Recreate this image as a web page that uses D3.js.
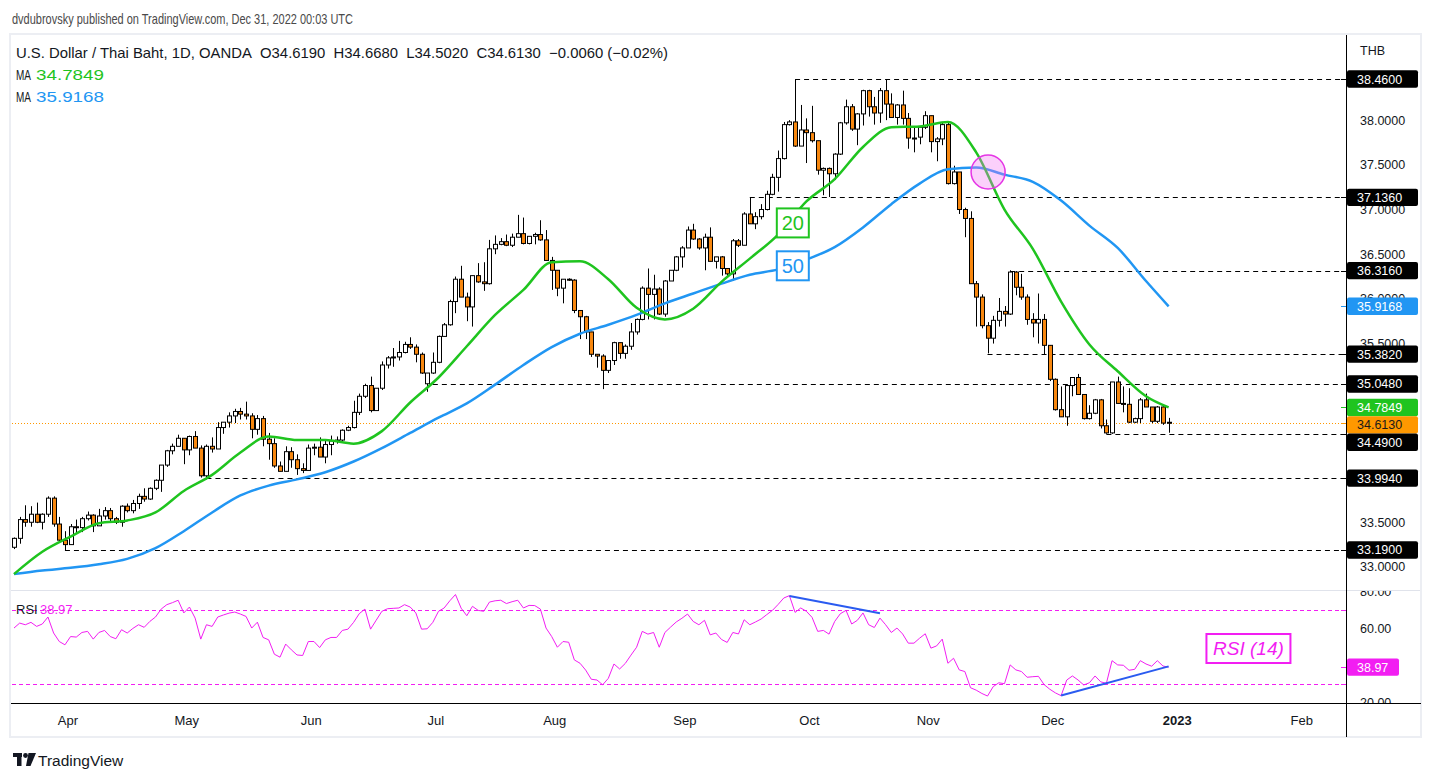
<!DOCTYPE html>
<html>
<head>
<meta charset="utf-8">
<script src="https://cdn.jsdelivr.net/npm/d3@7"></script>
<style>
  body { margin: 0; background: #fff; }
  svg { display: block; font-family: "Liberation Sans", Arial, sans-serif; }
</style>
</head>
<body>
<svg id="chart" width="1432" height="782"></svg>
<script>
// ---- data (USD/THB daily, OANDA), first bar 2022-03-21, weekdays only ----
const firstDay = new Date(2022, 2, 21);
const lastAxisDay = new Date(2023, 2, 1);

const opens = [
  33.22,33.32,33.53,33.50,33.59,33.50,33.59,33.77,33.48,33.30,
  33.25,33.45,33.44,33.54,33.58,33.46,33.57,33.63,33.54,33.50,
  33.68,33.63,33.71,33.79,33.76,33.88,33.97,34.14,34.30,34.35,
  34.44,34.31,34.46,34.33,34.02,34.35,34.32,34.56,34.62,34.69,
  34.74,34.71,34.69,34.54,34.66,34.43,34.38,34.13,34.07,34.29,
  34.20,34.10,34.08,34.33,34.34,34.23,34.37,34.41,34.42,34.53,
  34.56,34.73,34.91,35.03,34.75,35.00,35.26,35.34,35.35,35.40,
  35.49,35.46,35.38,35.05,35.17,35.29,35.58,35.71,35.97,36.22,
  36.02,35.91,36.26,36.19,36.17,36.56,36.61,36.64,36.60,36.69,
  36.73,36.62,36.70,36.72,36.66,36.43,36.32,36.12,36.22,36.21,
  35.87,35.80,35.63,35.38,35.36,35.20,35.31,35.51,35.39,35.47,
  35.63,35.77,36.12,36.05,36.11,35.83,36.20,36.32,36.47,36.57,
  36.77,36.67,36.57,36.69,36.42,36.47,36.34,36.28,36.65,36.60,
  36.95,36.84,36.92,37.00,37.17,37.36,37.57,37.95,37.98,37.71,
  37.89,37.86,37.77,37.44,37.46,37.40,37.62,37.97,38.15,37.90,
  38.07,38.33,38.15,38.08,38.33,38.18,38.03,38.17,38.02,37.80,
  37.81,37.92,38.05,37.76,37.79,37.95,37.29,37.42,37.00,36.90,
  36.17,36.02,35.70,35.56,35.76,35.86,35.83,36.30,36.13,36.02,
  35.77,35.73,35.77,35.48,35.10,34.76,34.68,35.03,35.12,34.93,
  34.66,34.72,34.87,34.58,34.50,35.07,34.83,34.82,34.62,34.66,
  34.87,34.79,34.63,34.79,34.619
];
const highs = [
  33.33,33.56,33.69,33.68,33.72,33.60,33.79,33.79,33.56,33.40,
  33.48,33.53,33.56,33.62,33.59,33.65,33.67,33.66,33.56,33.69,
  33.71,33.75,33.82,33.88,33.89,33.98,34.14,34.31,34.38,34.48,
  34.44,34.47,34.52,34.36,34.37,34.45,34.62,34.62,34.73,34.77,
  34.78,34.85,34.72,34.70,34.69,34.50,34.44,34.18,34.35,34.34,
  34.26,34.16,34.37,34.38,34.45,34.41,34.47,34.46,34.54,34.58,
  34.86,34.94,35.05,35.13,35.00,35.30,35.36,35.45,35.53,35.52,
  35.57,35.49,35.40,35.17,35.40,35.59,35.73,35.99,36.25,36.37,
  36.07,36.26,36.40,36.41,36.66,36.71,36.68,36.72,36.73,36.94,
  36.91,36.70,36.74,36.88,36.77,36.47,36.32,36.22,36.23,36.22,
  35.87,35.81,35.63,35.38,35.38,35.31,35.52,35.51,35.49,35.73,
  35.78,36.14,36.34,36.27,36.13,36.21,36.32,36.48,36.59,36.81,
  36.84,36.68,36.73,36.80,36.47,36.48,36.34,36.67,36.67,36.97,
  37.14,36.97,37.06,37.21,37.40,37.66,37.98,38.00,38.46,38.17,
  38.02,38.16,37.77,37.47,37.47,37.63,37.98,38.23,38.18,38.08,
  38.34,38.34,38.26,38.36,38.46,38.30,38.18,38.33,38.08,37.93,
  37.93,38.10,38.05,37.81,37.98,37.99,37.49,37.42,37.02,36.98,
  36.20,36.05,35.74,35.81,36.01,35.92,36.32,36.31,36.28,36.05,
  35.84,36.06,35.83,35.48,35.11,35.02,35.03,35.12,35.16,34.93,
  34.81,34.88,34.88,34.65,35.07,35.13,35.02,35.00,34.67,34.89,
  34.94,34.79,34.80,34.80,34.668
];
const lows = [
  33.20,33.26,33.45,33.45,33.49,33.42,33.56,33.45,33.28,33.18,
  33.25,33.37,33.39,33.52,33.39,33.46,33.53,33.51,33.48,33.45,
  33.61,33.60,33.65,33.73,33.75,33.86,33.84,34.12,34.26,34.35,
  34.15,34.25,34.33,34.00,33.98,34.28,34.32,34.49,34.56,34.61,
  34.65,34.65,34.44,34.48,34.35,34.20,34.11,34.07,34.07,34.11,
  34.03,34.05,34.08,34.25,34.23,34.16,34.25,34.38,34.41,34.52,
  34.55,34.70,34.89,34.73,34.75,34.98,35.22,35.24,35.31,35.39,
  35.44,35.29,35.16,34.96,35.16,35.28,35.58,35.70,35.84,36.02,
  35.75,35.69,36.18,36.09,36.16,36.50,36.60,36.59,36.58,36.69,
  36.61,36.61,36.61,36.65,36.43,36.10,36.03,35.95,36.20,35.84,
  35.55,35.55,35.35,35.23,34.99,35.17,35.26,35.33,35.33,35.43,
  35.60,35.76,35.77,35.77,35.82,35.80,36.20,36.31,36.35,36.57,
  36.66,36.55,36.32,36.42,36.34,36.26,36.24,36.20,36.58,36.60,
  36.84,36.78,36.89,36.99,37.16,37.20,37.56,37.94,37.70,37.71,
  37.52,37.75,37.39,37.16,37.14,37.33,37.61,37.95,37.88,37.72,
  37.94,38.04,37.95,37.97,38.00,38.03,37.95,37.95,37.68,37.64,
  37.73,37.90,37.64,37.54,37.72,37.28,37.28,36.95,36.69,36.17,
  35.69,35.67,35.39,35.50,35.69,35.69,35.82,36.04,35.99,35.71,
  35.57,35.50,35.38,35.08,34.75,34.68,34.58,34.91,34.93,34.65,
  34.65,34.71,34.55,34.49,34.49,34.83,34.73,34.61,34.61,34.61,
  34.79,34.61,34.61,34.59,34.502
];
const closes = [
  33.32,33.53,33.50,33.59,33.50,33.59,33.77,33.48,33.30,33.25,
  33.45,33.44,33.54,33.58,33.46,33.57,33.63,33.54,33.50,33.68,
  33.63,33.71,33.79,33.76,33.88,33.97,34.14,34.30,34.35,34.44,
  34.31,34.46,34.33,34.02,34.35,34.32,34.56,34.62,34.69,34.74,
  34.71,34.69,34.54,34.66,34.43,34.38,34.13,34.07,34.29,34.20,
  34.10,34.08,34.33,34.34,34.23,34.37,34.41,34.42,34.53,34.56,
  34.73,34.91,35.03,34.75,35.00,35.26,35.34,35.35,35.40,35.49,
  35.46,35.38,35.17,35.17,35.29,35.58,35.71,35.97,36.22,36.02,
  35.91,36.26,36.19,36.17,36.56,36.61,36.64,36.60,36.69,36.73,
  36.62,36.70,36.72,36.66,36.43,36.32,36.12,36.22,36.21,35.87,
  35.80,35.63,35.38,35.36,35.20,35.31,35.51,35.39,35.47,35.63,
  35.77,36.12,36.05,36.11,35.83,36.20,36.32,36.47,36.57,36.77,
  36.67,36.57,36.69,36.42,36.47,36.34,36.28,36.65,36.60,36.95,
  36.84,36.92,37.00,37.17,37.36,37.57,37.95,37.98,37.71,37.89,
  37.86,37.77,37.44,37.46,37.40,37.62,37.97,38.15,37.90,38.07,
  38.33,38.15,38.08,38.33,38.18,38.03,38.17,38.02,37.80,37.80,
  37.92,38.05,37.76,37.79,37.95,37.29,37.42,37.00,36.90,36.17,
  36.02,35.70,35.56,35.76,35.86,35.83,36.30,36.13,36.02,35.77,
  35.73,35.77,35.48,35.10,34.76,34.68,35.03,35.12,34.93,34.66,
  34.72,34.87,34.58,34.50,35.07,34.83,34.82,34.62,34.66,34.87,
  34.79,34.63,34.79,34.61,34.613
];

// moving averages every 5th bar
const maBars = [0,5,10,15,20,25,30,35,40,45,50,55,60,65,70,75,80,85,90,95,100,
  105,110,115,120,125,130,135,140,145,150,155,160,165,170,175,180,185,190,195,200,204];
const ma20 = [32.92,33.17,33.34,33.49,33.52,33.61,33.85,34.03,34.28,34.46,34.42,
  34.42,34.38,34.52,34.84,35.12,35.47,35.82,36.10,36.41,36.42,36.22,35.90,35.77,
  35.89,36.19,36.45,36.72,37.09,37.34,37.70,37.92,37.93,37.98,37.64,37.00,36.56,
  35.97,35.49,35.19,34.91,34.785];
const ma50 = [32.92,32.96,32.99,33.03,33.09,33.21,33.40,33.61,33.80,33.91,33.98,
  34.06,34.18,34.33,34.50,34.67,34.83,35.04,35.26,35.46,35.61,35.71,35.82,35.95,
  36.06,36.17,36.27,36.33,36.44,36.58,36.80,37.06,37.29,37.45,37.47,37.39,37.31,
  37.10,36.82,36.57,36.20,35.917];

const rsi = [
  60.2,62.9,62.0,63.3,61.1,62.4,66.2,57.5,52.9,51.1,
  55.6,55.3,57.8,58.4,54.2,57.8,58.9,55.6,54.4,59.3,
  57.5,60.0,62.0,60.6,63.8,66.2,70.5,72.9,74.0,75.3,
  68.4,71.6,65.6,54.2,62.0,61.1,66.2,67.3,68.3,68.9,
  67.8,66.5,60.2,63.4,55.1,53.8,46.0,44.4,51.5,48.4,
  45.6,45.3,52.9,52.9,49.6,53.8,55.1,55.1,58.9,59.6,
  63.3,68.0,70.5,59.6,64.5,69.3,70.7,70.9,71.1,72.9,
  71.6,68.4,59.6,59.8,63.3,69.3,71.1,75.0,78.4,71.0,
  66.9,72.0,69.8,69.3,74.3,75.0,75.3,73.5,74.5,75.3,
  71.1,72.5,72.4,70.5,60.2,55.6,49.8,52.9,52.5,42.9,
  41.1,37.4,32.4,32.0,29.4,32.9,40.7,38.0,41.0,45.5,
  49.8,58.4,56.9,57.8,49.8,57.8,60.7,63.5,65.5,67.8,
  63.8,62.0,64.4,56.5,57.5,54.0,52.4,57.8,57.0,64.7,
  62.0,63.5,65.1,67.5,69.8,73.0,76.5,77.8,68.7,71.1,
  69.3,66.0,58.4,58.9,56.9,63.8,68.0,69.8,62.4,64.4,
  68.4,62.0,60.5,65.6,62.0,57.8,60.2,57.0,52.0,52.0,
  54.7,57.1,49.3,50.5,54.2,41.1,43.8,37.5,36.6,27.8,
  26.5,24.7,23.3,28.4,30.5,30.0,40.2,37.5,36.6,33.5,
  33.8,34.0,29.5,27.0,25.0,23.5,32.0,34.2,32.0,29.3,
  30.5,34.2,31.0,30.2,42.5,40.2,40.0,37.3,37.8,42.5,
  40.7,39.5,42.5,39.6,38.97
];

// horizontal levels drawn on the chart, and the bar each one starts from
const levelPrices = [38.46, 37.136, 36.316, 35.382, 35.048, 34.49, 33.994, 33.19];
const levelFrom   = [138, 130, 176, 172, 74, 193, 34, 9];
// axis ticks that are not hidden by the value labels
const priceTicks = [33.0, 33.5, 35.5, 36.0, 36.5, 37.0, 37.5, 38.0];
const rsiTicks = [80, 60, 20];
const rsiDivergences = [[[137, 77.6], [153, 68.2]], [[185, 23.6], [204, 39.4]]];

const lastPrice = 34.613, lastMa20 = 34.7849, lastMa50 = 35.9168, lastRsi = 38.97;

// ---- layout ----
const W = 1432, H = 782;
const plotL = 12, plotR = 1346;
const priceTop = 36, priceBot = 590, rsiBot = 703;
const UP = "#ffffff", DOWN = "#f7870f", GREEN = "#1fc41f", BLUE = "#2196f3", MAG = "#f21ef2";
const TXT = "#131722";

const svg = d3.select("#chart");
svg.append("rect").attr("width", W).attr("height", H).attr("fill", "#fff");

const x = d3.scaleLinear().domain([0, 204]).range([14, 14 + 204 * 5.66]);
const y = d3.scaleLinear().domain([32.742, 38.897]).range([priceBot, 40]);
const yR = d3.scaleLinear().domain([70, 30]).range([610, 683.7]);

const days = d3.timeDay.range(firstDay, lastAxisDay).filter(d => d.getDay() > 0 && d.getDay() < 6);

// frame
svg.append("rect").attr("x", 10).attr("y", 34).attr("width", 1411).attr("height", 703)
  .attr("fill", "none").attr("stroke", "#eceef3").attr("stroke-width", 2);
svg.append("line").attr("x1", 11).attr("x2", 1420).attr("y1", 590.5).attr("y2", 590.5)
  .attr("stroke", "#e0e3eb");

const defs = svg.append("defs");
defs.append("clipPath").attr("id", "cp").append("rect")
  .attr("x", plotL).attr("y", priceTop).attr("width", plotR - plotL).attr("height", priceBot - priceTop);
defs.append("clipPath").attr("id", "cr").append("rect")
  .attr("x", plotL).attr("y", 591).attr("width", plotR - plotL).attr("height", rsiBot - 591);

const gp = svg.append("g").attr("clip-path", "url(#cp)");

// last price dotted line
gp.append("line").attr("x1", plotL).attr("x2", plotR)
  .attr("y1", Math.round(y(lastPrice)) + 0.5).attr("y2", Math.round(y(lastPrice)) + 0.5)
  .attr("stroke", "#ff9800").attr("stroke-dasharray", "1,2");

// level lines
levelPrices.forEach((p, k) => {
  gp.append("line").attr("x1", x(levelFrom[k])).attr("x2", plotR)
    .attr("y1", Math.round(y(p)) + 0.5).attr("y2", Math.round(y(p)) + 0.5)
    .attr("stroke", "#000").attr("stroke-dasharray", "5,4");
});

// candles
const bars = d3.range(closes.length);
const cg = gp.append("g");
cg.selectAll("line.wick").data(bars).join("line")
  .attr("class", "wick")
  .attr("x1", i => Math.round(x(i)) + 0.5).attr("x2", i => Math.round(x(i)) + 0.5)
  .attr("y1", i => y(highs[i])).attr("y2", i => y(lows[i]))
  .attr("stroke", "#000");
cg.selectAll("rect.body").data(bars).join("rect")
  .attr("class", "body")
  .attr("x", i => Math.round(x(i)) - 1.5)
  .attr("width", 4)
  .attr("y", i => y(Math.max(opens[i], closes[i])))
  .attr("height", i => Math.max(1, Math.abs(y(opens[i]) - y(closes[i]))))
  .attr("fill", i => closes[i] > opens[i] ? UP : DOWN)
  .attr("stroke", "#000").attr("stroke-width", 1);

// moving averages
const maLine = vals => d3.line().curve(d3.curveMonotoneX)
  .x((d, k) => x(maBars[k])).y(d => y(d))(vals);
gp.append("path").attr("d", maLine(ma50)).attr("fill", "none").attr("stroke", BLUE).attr("stroke-width", 2.5);
gp.append("path").attr("d", maLine(ma20)).attr("fill", "none").attr("stroke", GREEN).attr("stroke-width", 2.5);

// annotations: cross circle, MA labels
gp.append("circle").attr("cx", x(172.1)).attr("cy", y(37.42)).attr("r", 17)
  .attr("fill", "rgba(244,120,244,0.35)").attr("stroke", "#e535e5").attr("stroke-width", 1.5);

[[36.85, "20", GREEN], [36.37, "50", BLUE]].forEach(([p, t, c]) => {
  const cx = x(137.6), cy = y(p);
  gp.append("rect").attr("x", cx - 16).attr("y", cy - 14.5).attr("width", 32).attr("height", 29)
    .attr("fill", "#fff").attr("stroke", c).attr("stroke-width", 2);
  gp.append("text").attr("x", cx).attr("y", cy + 7).attr("text-anchor", "middle")
    .attr("font-size", 20).attr("fill", c).text(t);
});

// ---- RSI pane ----
const gr = svg.append("g").attr("clip-path", "url(#cr)");
[70, 30].forEach(v => {
  gr.append("line").attr("x1", plotL).attr("x2", plotR)
    .attr("y1", Math.round(yR(v)) + 0.5).attr("y2", Math.round(yR(v)) + 0.5)
    .attr("stroke", MAG).attr("stroke-dasharray", "4,3");
});
gr.append("path")
  .attr("d", d3.line().x((d, i) => x(i)).y(d => yR(d))(rsi))
  .attr("fill", "none").attr("stroke", MAG).attr("stroke-width", 1);
rsiDivergences.forEach(seg => {
  gr.append("line").attr("x1", x(seg[0][0])).attr("y1", yR(seg[0][1]))
    .attr("x2", x(seg[1][0])).attr("y2", yR(seg[1][1]))
    .attr("stroke", "#2a5bf0").attr("stroke-width", 2);
});
{
  const cx = x(218.1), cy = yR(49.1);
  gr.append("rect").attr("x", cx - 42).attr("y", cy - 14.5).attr("width", 84).attr("height", 29)
    .attr("fill", "#fff").attr("stroke", MAG).attr("stroke-width", 2);
  gr.append("text").attr("x", cx).attr("y", cy + 6.5).attr("text-anchor", "middle")
    .attr("font-size", 19).attr("font-style", "italic").attr("fill", MAG).text("RSI (14)");
}
svg.append("text").attr("x", 16).attr("y", 614).attr("font-size", 13).attr("fill", TXT).text("RSI");
svg.append("text").attr("x", 40).attr("y", 614).attr("font-size", 13).attr("fill", MAG).text(lastRsi.toFixed(2));

// ---- time axis ----
svg.append("line").attr("x1", 11).attr("x2", 1421).attr("y1", rsiBot + 0.5).attr("y2", rsiBot + 0.5).attr("stroke", "#000");
const monthStarts = d3.timeMonth.range(new Date(2022, 3, 1), new Date(2023, 2, 1));
monthStarts.forEach(m => {
  const i = days.findIndex(d => d >= m);
  const isYear = m.getMonth() === 0;
  svg.append("text").attr("x", x(i) + 3).attr("y", 725).attr("text-anchor", "middle")
    .attr("font-size", 13).attr("fill", TXT).attr("font-weight", isYear ? "bold" : "normal")
    .text(isYear ? d3.timeFormat("%Y")(m) : d3.timeFormat("%b")(m));
});

// ---- price axis ----
svg.append("line").attr("x1", plotR + 0.5).attr("x2", plotR + 0.5).attr("y1", 35).attr("y2", 737).attr("stroke", "#000");
svg.append("text").attr("x", 1360).attr("y", 55).attr("font-size", 12.5).attr("fill", TXT).text("THB");
const ga = svg.append("g");
priceTicks.forEach(v => {
  ga.append("text").attr("x", 1360).attr("y", y(v) + 4.5).attr("font-size", 12.5)
    .attr("fill", TXT).text(v.toFixed(4));
});
defs.append("clipPath").attr("id", "cra").append("rect").attr("x", 1347).attr("y", 591).attr("width", 80).attr("height", 112);
const ra = svg.append("g").attr("clip-path", "url(#cra)");
rsiTicks.forEach(v => {
  ra.append("text").attr("x", 1360).attr("y", yR(v) + 4.5).attr("font-size", 12.5)
    .attr("fill", TXT).text(v.toFixed(2));
});

// value labels on the price axis, pushed apart downward when they collide
const BH = 17.4;
const priceBadges = levelPrices.map(p => ({ v: p, fill: "#000", color: "#fff" }))
  .concat([
    { v: lastMa50, fill: BLUE, color: "#fff" },
    { v: lastMa20, fill: GREEN, color: "#fff" },
    { v: lastPrice, fill: "#ff9800", color: "#1a1a1a" }
  ])
  .sort((a, b) => b.v - a.v);
let prevY = -Infinity;
priceBadges.forEach(b => {
  b.y = Math.max(y(b.v), prevY + BH);
  prevY = b.y;
});
function drawBadge(b, digits, w, tickY) {
  svg.append("line").attr("x1", plotR - 5).attr("x2", plotR)
    .attr("y1", Math.round(tickY) + 0.5).attr("y2", Math.round(tickY) + 0.5).attr("stroke", b.fill);
  svg.append("rect").attr("x", 1347).attr("y", b.y - BH / 2).attr("width", w).attr("height", BH)
    .attr("rx", 2).attr("fill", b.fill);
  svg.append("text").attr("x", 1357).attr("y", b.y + 4.5).attr("font-size", 12.5)
    .attr("fill", b.color).text(b.v.toFixed(digits));
}
priceBadges.forEach(b => drawBadge(b, 4, 71, y(b.v)));
drawBadge({ v: lastRsi, y: yR(lastRsi), fill: MAG, color: "#fff" }, 2, 52, yR(lastRsi));
[70, 30].forEach(v => {
  svg.append("line").attr("x1", plotR - 5).attr("x2", plotR).attr("y1", Math.round(yR(v)) + 0.5).attr("y2", Math.round(yR(v)) + 0.5).attr("stroke", MAG);
});

// ---- header ----
svg.append("text").attr("x", 12).attr("y", 24).attr("font-size", 15).attr("fill", "#4a4a4a")
  .attr("textLength", 341).attr("lengthAdjust", "spacingAndGlyphs")
  .text("dvdubrovsky published on TradingView.com, Dec 31, 2022 00:03 UTC");
svg.append("text").attr("x", 16).attr("y", 58).attr("font-size", 14.5).attr("fill", TXT)
  .attr("textLength", 652).attr("lengthAdjust", "spacingAndGlyphs")
  .text("U.S. Dollar / Thai Baht, 1D, OANDA\u00a0 O34.6190\u00a0 H34.6680\u00a0 L34.5020\u00a0 C34.6130\u00a0 \u22120.0060 (\u22120.02%)");
[[80, lastMa20, GREEN], [102, lastMa50, BLUE]].forEach(([yy, v, c]) => {
  svg.append("text").attr("x", 16).attr("y", yy).attr("font-size", 14.5).attr("fill", TXT)
    .attr("textLength", 15).attr("lengthAdjust", "spacingAndGlyphs").text("MA");
  svg.append("text").attr("x", 36).attr("y", yy).attr("font-size", 14.5).attr("fill", c)
    .attr("textLength", 68).attr("lengthAdjust", "spacingAndGlyphs").text(v.toFixed(4));
});

// ---- footer logo ----
const lg = svg.append("g").attr("fill", TXT);
lg.append("rect").attr("x", 13).attr("y", 753).attr("width", 9).attr("height", 4);
lg.append("rect").attr("x", 17).attr("y", 753).attr("width", 4.5).attr("height", 13);
lg.append("circle").attr("cx", 25.5).attr("cy", 755.5).attr("r", 2.4);
lg.append("polygon").attr("points", "28.5,753 36,753 30.5,766 26,766");
svg.append("text").attr("x", 38).attr("y", 766).attr("font-size", 15.5).attr("fill", TXT).text("TradingView");
</script>
</body>
</html>
